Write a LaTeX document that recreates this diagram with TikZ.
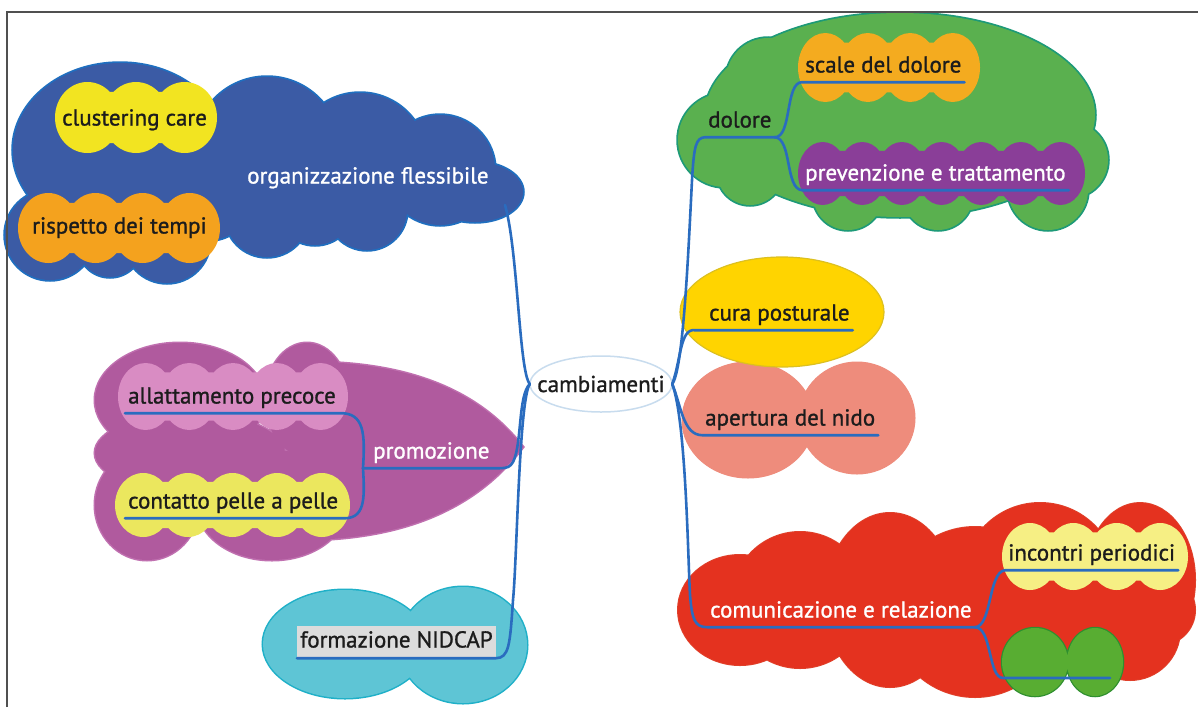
\documentclass[tikz,border=0pt]{standalone}
\usepackage{fontspec}
\setmainfont{PT Sans}
\newfontfamily\lblfamily{PT Sans}[FakeBold=1.1]
\usetikzlibrary{shapes.geometric}

\definecolor{frame}{HTML}{505050}
\definecolor{labdark}{HTML}{1C1C1C}
\definecolor{linkblue}{HTML}{2A6CBF}
\definecolor{blueFill}{HTML}{3B5BA5}
\definecolor{blueLine}{HTML}{1F6FC0}
\definecolor{greenFill}{HTML}{5AB04F}
\definecolor{greenLine}{HTML}{1D9A78}
\definecolor{redFill}{HTML}{E4321F}
\definecolor{redLine}{HTML}{E0402A}
\definecolor{purpFill}{HTML}{B05A9E}
\definecolor{purpLine}{HTML}{C070B0}
\definecolor{cyanFill}{HTML}{5EC5D5}
\definecolor{cyanLine}{HTML}{1FB0C8}
\definecolor{curaFill}{HTML}{FFD400}
\definecolor{curaLine}{HTML}{DCC020}
\definecolor{salmon}{HTML}{EE8C7C}
\definecolor{leafFill}{HTML}{58AD32}
\definecolor{leafLine}{HTML}{2F8F2F}
\definecolor{yellowA}{HTML}{F2E421}
\definecolor{yellowB}{HTML}{EBE75E}
\definecolor{yellowC}{HTML}{F6EF84}
\definecolor{orangeA}{HTML}{F4A21E}
\definecolor{orangeB}{HTML}{F4AB1F}
\definecolor{violet}{HTML}{8A3E98}
\definecolor{pinkA}{HTML}{D98CC3}
\definecolor{boxgray}{HTML}{DCDCDC}
\definecolor{ringblue}{HTML}{C8DCEE}

% outlined union of closed shapes: outline colour, fill colour, outline width, path
\newcommand\blob[4]{\path[draw=#1,line width=#3] #4; \path[fill=#2] #4;}

% scalloped bubble: fill, x-left, x-right, y-top, y-bottom, number of lobes
\newcommand\scallop[6]{%
  \pgfmathsetmacro\scw{(#3-#2)/#6}%
  \pgfmathsetmacro\scy{(#4+#5)/2}%
  \pgfmathsetmacro\sch{(#5-#4)/2}%
  \pgfmathsetmacro\scrx{0.6*\scw}%
  \pgfmathsetmacro\scsp{(#3-#2-2*\scrx)/(#6-1)}%
  \fill[#1] (#2+0.5*\scw,\scy-0.72*\sch) rectangle (#3-0.5*\scw,\scy+0.72*\sch)
    \foreach \k in {1,...,#6}{ ({#2+\scrx+(\k-1)*\scsp},\scy) ellipse [x radius=\scrx pt, y radius=\sch pt] };
}

\newcommand\lblfont{\lblfamily\fontsize{23}{27}\selectfont}

\tikzset{
  lbl/.style={font=\lblfont, text=labdark, text height=16pt, text depth=5pt,
              inner xsep=3pt, inner ysep=4.5pt, anchor=west},
  lblw/.style={lbl, text=white},
  conn/.style={draw=linkblue, line width=2.6pt, line cap=round, line join=round},
}

\begin{document}
\begin{tikzpicture}[x=1pt,y=-1pt]
\useasboundingbox (0,0) rectangle (1198,707);
\fill[white] (0,0) rectangle (1198,707);

% ---------- large clouds ----------
\blob{purpLine}{purpFill}{3pt}{
  (180,400) ellipse [x radius=85pt, y radius=57pt]
  (307,400) ellipse [x radius=42pt, y radius=57pt]
  (190,453) ellipse [x radius=95pt, y radius=40pt]
  (147,505) ellipse [x radius=52pt, y radius=55pt]
  (272,505) ellipse [x radius=75pt, y radius=55pt]
  (300,540) .. controls (430,540) and (490,490) .. (523,447)
            .. controls (490,405) and (430,360) .. (300,362) -- cycle}

\blob{blueLine}{blueFill}{3.5pt}{
  (120,150) ellipse [x radius=107pt, y radius=87pt]
  (267,150) circle [radius=73pt]
  (360,160) circle [radius=67pt]
  (440,170) circle [radius=55pt]
  (475,192) ellipse [x radius=48pt, y radius=30pt]
  (50,235) circle [radius=45pt]
  (110,245) circle [radius=32pt]
  (167,240) circle [radius=43pt]
  (210,200) circle [radius=40pt]
  (267,215) circle [radius=42pt]
  (315,205) circle [radius=40pt]
  (367,210) circle [radius=40pt]
  (440,195) circle [radius=30pt]
  (100,150) rectangle (460,200)}

\blob{cyanLine}{cyanFill}{3pt}{
  (345,644) ellipse [x radius=82pt, y radius=54pt]
  (463,645) ellipse [x radius=64pt, y radius=58pt]}

\blob{greenLine}{greenFill}{3.5pt}{
  (900,115) ellipse [x radius=195pt, y radius=102pt]
  (848,195) circle [radius=35pt]
  (938,195) circle [radius=35pt]
  (1048,190) circle [radius=40pt]
  (1070,160) circle [radius=38pt]
  (725,140) circle [radius=47pt]
  (750,172) circle [radius=33pt]
  (768,80) circle [radius=42pt]}

\blob{salmon}{salmon}{1pt}{
  (748,420) ellipse [x radius=66pt, y radius=58pt]
  (857,418) ellipse [x radius=58pt, y radius=56pt]}

\draw[curaLine, fill=curaFill, line width=1.2pt] (782,312) ellipse [x radius=102pt, y radius=55pt];

\blob{redLine}{redFill}{2pt}{
  (740,610) ellipse [x radius=62pt, y radius=55pt]
  (800,600) circle [radius=68pt]
  (890,600) ellipse [x radius=65pt, y radius=87pt]
  (975,612) circle [radius=85pt]
  (1040,580) circle [radius=77pt]
  (1140,580) ellipse [x radius=55pt, y radius=77pt]
  (1130,630) circle [radius=50pt]
  (1160,610) circle [radius=35pt]}

% ---------- inner bubbles ----------
\scallop{yellowA}{55}{217}{82}{153}{3}
\scallop{orangeA}{18}{220}{193}{263}{4}
\scallop{orangeB}{798}{980}{33}{102}{4}
\scallop{violet}{798}{1085}{142}{205}{7}
\scallop{pinkA}{118}{348}{363}{430}{5}
\scallop{yellowB}{115}{350}{473}{537}{5}
\scallop{yellowC}{1002}{1188}{523}{590}{4}
\blob{leafLine}{leafFill}{2.5pt}{
  (1035,662) ellipse [x radius=33pt, y radius=34pt]
  (1095,662) ellipse [x radius=28pt, y radius=34pt]}

% ---------- frame ----------
\draw[frame, line width=1.2pt] (7,707) -- (7,12) -- (1198,12);

% ---------- central topic ----------
\draw[ringblue, fill=white, line width=1.5pt] (601,384) ellipse [x radius=71pt, y radius=28pt];
\node[font=\lblfont, text=labdark, minimum width=142pt, minimum height=56pt,
      inner sep=0pt] (c) at (601,384) {cambiamenti};

% ---------- labels ----------
\node[lbl]  (clus) at (59,120)  {clustering care};
\node[lbl]  (risp) at (29,228)  {rispetto dei tempi};
\node[lblw] (org)  at (244,178) {organizzazione flessibile};
\node[lbl]  (dol)  at (705,122) {dolore};
\node[lbl]  (scal) at (802,67)  {scale del dolore};
\node[lblw] (prev) at (802,175) {prevenzione e trattamento};
\node[lbl]  (cura) at (706,315) {cura posturale};
\node[lbl]  (aper) at (702,420) {apertura del nido};
\node[lblw] (comu) at (707,612) {comunicazione e relazione};
\node[lbl]  (inco) at (1005,555) {incontri periodici};
\node[lbl]  (alla) at (125,398) {allattamento precoce};
\node[lblw, inner xsep=10pt] (prom) at (363,453) {promozione};
\node[lbl]  (cont) at (125,503) {contatto pelle a pelle};
\node[lbl, fill=boxgray, inner ysep=5.5pt] (nidc) at (297,642) {formazione NIDCAP};

\coordinate (orgend) at (505,205);
\coordinate (gpa) at (1003,678);
\coordinate (gpb) at (1110,678);

% ---------- connectors: left side ----------
\draw[conn] (c.west) .. controls (519,372) and (518,250) .. (orgend);
\draw[conn] (c.west) .. controls (518,395) and (522,445) .. (513,462)
            .. controls (510,467) and (508,468) .. (prom.south east) -- (prom.south west);
\draw[conn] (prom.south west) .. controls (365,435) and (365,412) .. (alla.south east) -- (alla.south west);
\draw[conn] (prom.south west) .. controls (365,500) and (365,520) .. (cont.south east) -- (cont.south west);
\draw[conn] (c.west) .. controls (519,400) and (517,560) .. (513,600)
            .. controls (510,645) and (509,658) .. (nidc.south east) -- (nidc.south west);

% ---------- connectors: right side ----------
\draw[conn] (c.east) .. controls (683,370) and (688,260) .. (692,180)
            .. controls (694,145) and (696,138) .. (dol.south west) -- (dol.south east);
\draw[conn] (dol.south east) .. controls (792,138) and (785,82) .. (scal.south west) -- (scal.south east);
\draw[conn] (dol.south east) .. controls (792,138) and (785,189) .. (prev.south west) -- (prev.south east);
\draw[conn] (c.east) .. controls (681,360) and (680,328) .. ([xshift=-11pt]cura.south west) -- (cura.south east);
\draw[conn] (c.east) .. controls (681,405) and (683,435) .. (aper.south west) -- (aper.south east);
\draw[conn] (c.east) .. controls (686,420) and (688,560) .. (690,595)
            .. controls (692,620) and (695,627) .. (comu.south west) -- (comu.south east);
\draw[conn] (comu.south east) .. controls (992,627) and (988,572) .. (inco.south west) -- (inco.south east);
\draw[conn] (comu.south east) .. controls (992,627) and (988,678) .. (gpa) -- (gpb);
\end{tikzpicture}
\end{document}
